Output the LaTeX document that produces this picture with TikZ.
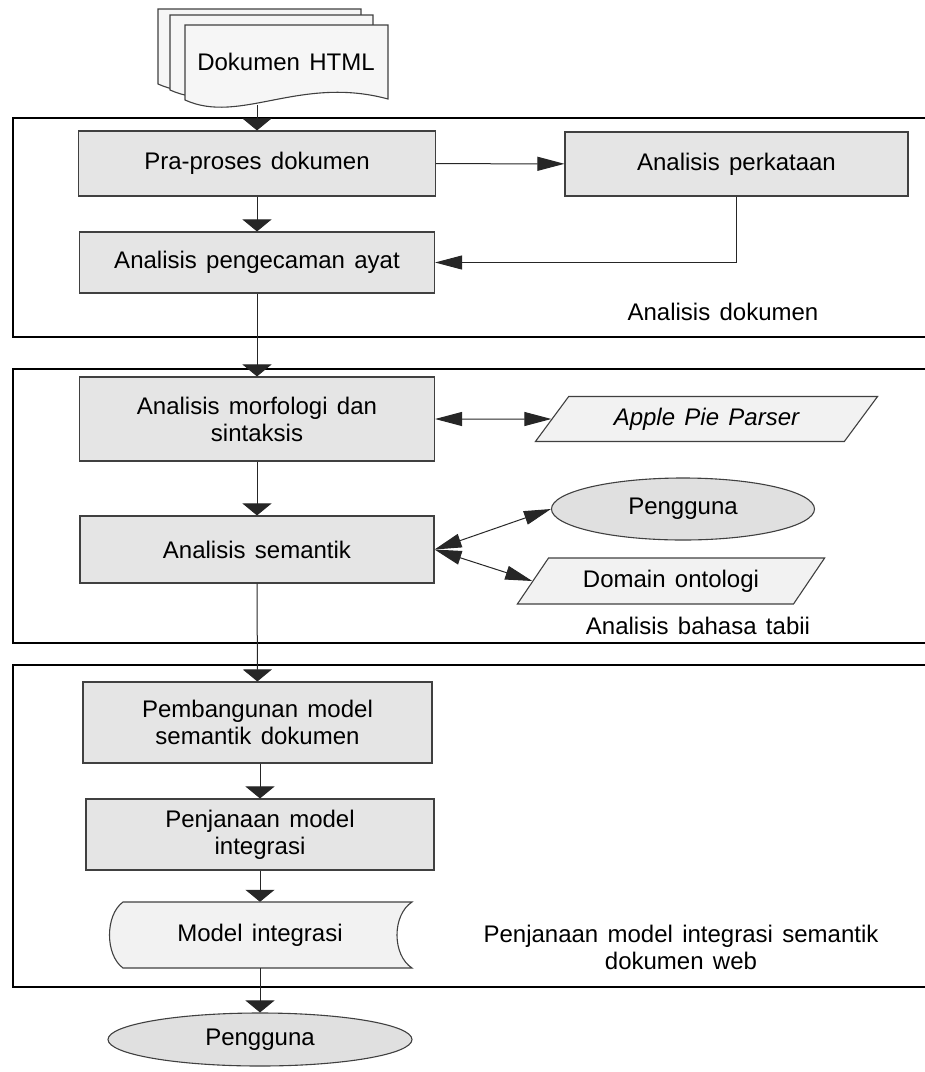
\documentclass[tikz,border=0pt]{standalone}
\usepackage{fontspec}
\setmainfont{Liberation Sans}[WordSpace=1.4]
\usetikzlibrary{arrows.meta,shapes.geometric}

\definecolor{boxfill}{gray}{0.90}
\definecolor{parafill}{gray}{0.95}
\definecolor{ellfill}{gray}{0.88}
\definecolor{docfill}{gray}{0.965}
\definecolor{edge}{gray}{0.25}

\tikzset{
  every node/.style={font=\fontsize{24}{27}\selectfont, inner sep=0pt, align=center},
  stepbox/.style={draw=edge, fill=boxfill, line width=1.1pt},
  iobox/.style={draw=edge, fill=parafill, line width=1.1pt, trapezium,
    trapezium left angle=45, trapezium right angle=135, trapezium stretches=true},
  userell/.style={draw=edge, fill=ellfill, line width=1.1pt, ellipse},
  frame/.style={draw=black, line width=1.3pt},
  link/.style={draw=black!85, line width=1pt},
  vhead/.style={link, -{Triangle[length=12pt,width=29pt]}},
  hhead/.style={link, -{Triangle[length=27pt,width=14pt]}},
  hboth/.style={link, {Triangle[length=27pt,width=14pt]}-{Triangle[length=27pt,width=14pt]}},
}

\begin{document}
\begin{tikzpicture}[x=1pt,y=-1pt]
\useasboundingbox (0,0) rectangle (925,1072);

% stage frames (open on the right)
\draw[frame] (935,118) -- (13,118) -- (13,337) -- (935,337);
\draw[frame] (935,369) -- (13,369) -- (13,643) -- (935,643);
\draw[frame] (935,665) -- (13,665) -- (13,987) -- (935,987);

% stack of HTML documents
\foreach \dx/\dy in {-27/-16, -15/-10, 0/0} {
  \draw[draw=edge, fill=docfill, line width=1.1pt, shift={(\dx,\dy)}]
    (185,25) -- (388,25) -- (388,99)
    .. controls (300,75) and (240,125) .. (185,100) -- cycle;
}
\node (doc) at (286,62) {Dokumen HTML};
\coordinate (docb) at (257,105);

% document analysis
\node[stepbox, minimum width=357pt, minimum height=65pt] (pra) at (257,163.5) {Pra-proses dokumen};
\node[stepbox, minimum width=343pt, minimum height=64pt] (perk) at (736.5,164) {Analisis perkataan};
\node[stepbox, minimum width=355pt, minimum height=61pt] (ayat) at (257,262.5) {Analisis pengecaman ayat};
\node (lbl1) at (723,312) {Analisis dokumen};

% natural language analysis
\node[stepbox, minimum width=355pt, minimum height=84pt] (morf) at (257,419) {Analisis morfologi dan\\sintaksis};
\node[iobox, minimum width=343pt, minimum height=45pt] (apple) at (706.5,419) {\itshape Apple Pie Parser};
\node[stepbox, minimum width=354pt, minimum height=67pt] (sem) at (257,549.5) {Analisis semantik};
\node[userell, minimum width=263pt, minimum height=62pt] (user1) at (683,509) {Pengguna};
\node[iobox, minimum width=308pt, minimum height=46pt] (dom) at (671,581) {Domain ontologi};
\node (lbl2) at (698,626) {Analisis bahasa tabii};

% integration model generation
\node[stepbox, minimum width=349pt, minimum height=81pt] (pemb) at (257.5,722.5) {Pembangunan model\\semantik dokumen};
\node[stepbox, minimum width=348pt, minimum height=71pt] (penj) at (260,834.5) {Penjanaan model\\integrasi};
\draw[draw=edge, fill=parafill, line width=1.1pt]
  (123,902) -- (412,902) .. controls (392,915) and (392,955) .. (412,968)
  -- (123,968) .. controls (105,955) and (105,915) .. (123,902) -- cycle;
\node[minimum width=302pt, minimum height=66pt] (model) at (260,935) {Model integrasi};
\node (lbl3) at (681,947) {Penjanaan model integrasi semantik\\dokumen web};
\node[userell, minimum width=304pt, minimum height=53pt] (user2) at (260,1039.5) {Pengguna};

% connectors
\draw[vhead] (docb) -- (pra.north -| docb);
\draw[hhead] (pra) -- (perk);
\draw[vhead] (pra) -- (ayat);
\draw[hhead] (perk.south) |- (ayat.east);
\draw[vhead] (ayat) -- (morf);
\draw[hboth] (morf) -- (apple);
\draw[vhead] (morf) -- (sem);
\draw[hboth] (sem.east) -- (user1.west);
\draw[hboth] (sem.east) -- (dom.west);
\draw[vhead] (sem) -- (pemb);
\draw[vhead] (pemb.south -| penj) -- (penj);
\draw[vhead] (penj) -- (model);
\draw[vhead] (model) -- (user2);
\end{tikzpicture}
\end{document}
